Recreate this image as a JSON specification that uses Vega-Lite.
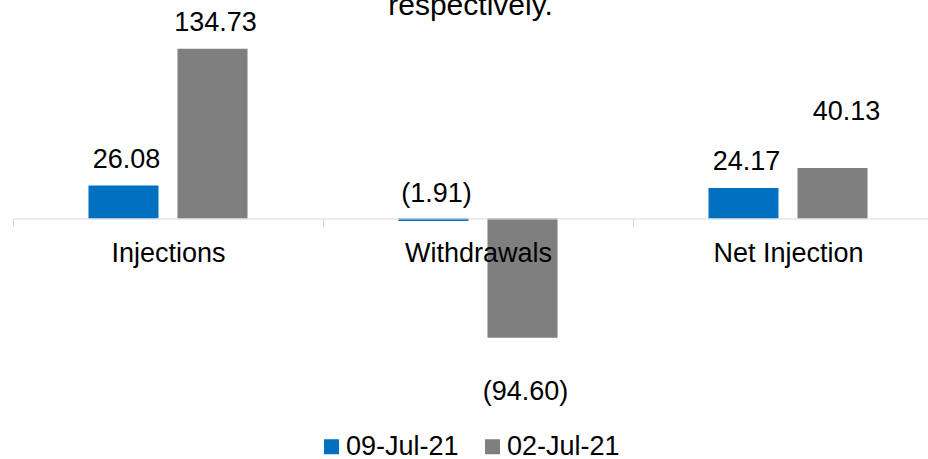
{
  "$schema": "https://vega.github.io/schema/vega-lite/v6.json",
  "width": 915,
  "height": 353,
  "autosize": {"type": "none"},
  "padding": {"left": 13, "top": 42, "right": 0, "bottom": 64},
  "title": {"text": "respectively.", "fontSize": 30, "font": "Liberation Sans", "fontWeight": "normal", "color": "#000000", "anchor": "middle", "baseline": "alphabetic", "offset": -36},
  "config": {"view": {"stroke": null}, "font": "Liberation Sans"},
  "data": {"values": [
    {"category": "Injections", "date": "09-Jul-21", "value": 26.08, "label": "26.08"},
    {"category": "Injections", "date": "02-Jul-21", "value": 134.73, "label": "134.73"},
    {"category": "Withdrawals", "date": "09-Jul-21", "value": -1.91, "label": "(1.91)"},
    {"category": "Withdrawals", "date": "02-Jul-21", "value": -94.60, "label": "(94.60)"},
    {"category": "Net Injection", "date": "09-Jul-21", "value": 24.17, "label": "24.17"},
    {"category": "Net Injection", "date": "02-Jul-21", "value": 40.13, "label": "40.13"}
  ]},
  "encoding": {
    "x": {"field": "category", "type": "nominal", "sort": ["Injections", "Withdrawals", "Net Injection"],
      "scale": {"paddingInner": 0, "paddingOuter": 0, "range": [0, 930]},
      "axis": {"title": null, "orient": "bottom", "offset": -176.5, "domainColor": "#d9d9d9", "domainWidth": 1, "tickColor": "#d9d9d9", "tickSize": 8, "tickBand": "extent", "labelFontSize": 27, "labelColor": "#000000", "labelPadding": 14, "labelAngle": 0, "zindex": 1, "labelFont": "Liberation Sans"}},
    "xOffset": {"field": "date", "type": "nominal", "sort": ["09-Jul-21", "02-Jul-21"], "scale": {"paddingInner": 0.2135, "paddingOuter": 0.848}},
    "y": {"field": "value", "type": "quantitative", "scale": {"domain": [-140, 140]}, "axis": null}
  },
  "layer": [
    {"mark": {"type": "bar"},
     "encoding": {"color": {"field": "date", "type": "nominal", "sort": ["09-Jul-21", "02-Jul-21"],
       "scale": {"domain": ["09-Jul-21", "02-Jul-21"], "range": ["#0070C0", "#7F7F7F"]},
       "legend": {"orient": "none", "legendX": 305, "legendY": 391, "direction": "horizontal", "title": null, "symbolType": "square", "symbolSize": 225, "symbolStrokeWidth": 0, "labelFontSize": 27, "labelColor": "#000000", "labelFont": "Liberation Sans", "columnPadding": 20, "labelOffset": 1}}}},
    {"transform": [{"filter": "datum.label == '26.08' || datum.label == '134.73' || datum.label == '24.17'"}],
     "mark": {"type": "text", "fontSize": 27, "baseline": "alphabetic", "dy": -18, "dx": 3, "color": "#000000"},
     "encoding": {"text": {"field": "label"}}},
    {"transform": [{"filter": "datum.label == '40.13'"}],
     "mark": {"type": "text", "fontSize": 27, "baseline": "alphabetic", "dy": -48, "dx": 14, "color": "#000000"},
     "encoding": {"text": {"field": "label"}}},
    {"transform": [{"filter": "datum.label == '(1.91)'"}],
     "mark": {"type": "text", "fontSize": 27, "baseline": "alphabetic", "dy": -19, "dx": 3, "color": "#000000"},
     "encoding": {"text": {"field": "label"}}},
    {"transform": [{"filter": "datum.label == '(94.60)'"}],
     "mark": {"type": "text", "fontSize": 27, "baseline": "alphabetic", "dy": 62, "dx": 3, "color": "#000000"},
     "encoding": {"text": {"field": "label"}}}
  ]
}
